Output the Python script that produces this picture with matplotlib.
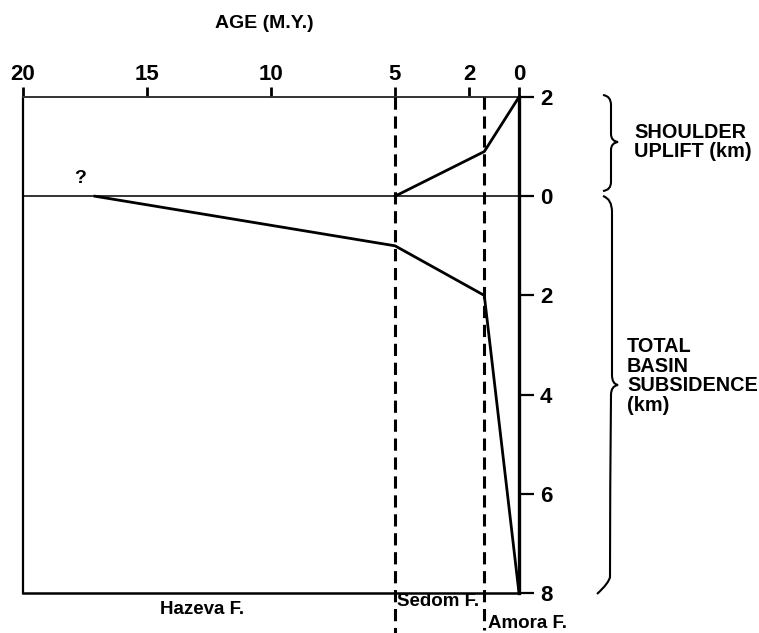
import matplotlib
matplotlib.use("Agg")
import matplotlib.pyplot as plt
from matplotlib.path import Path
from matplotlib.patches import PathPatch

# ---- data ----
age_ticks = [20, 15, 10, 5, 2, 0]
age_tick_labels = ["20", "15", "10", "5", "2", "0"]
km_ticks = [2, 0, -2, -4, -6, -8]
km_tick_labels = ["2", "0", "2", "4", "6", "8"]

uplift_age = [5, 1.4, 0]
uplift_km = [0, 0.9, 2]

subs_age = [17.1, 5, 1.4, 0]
subs_km = [0, 1.0, 2.0, 8.0]

boundary_ages = [5, 1.4]
formations = ["Hazeva F.", "Sedom F.", "Amora F."]

W, H = 759, 633
plt.rcParams['font.family'] = ['Liberation Sans', 'DejaVu Sans']
fig = plt.figure(figsize=(W / 100, H / 100), dpi=100)

def fx(x):
    return x / W

def fy(y):
    return 1 - y / H

ax = fig.add_axes([fx(23), fy(593), fx(519) - fx(23), fy(97) - fy(593)])
ax.set_xlim(20, 0)
ax.set_ylim(-8, 2)

# spines
ax.spines['right'].set_linewidth(2.4)
ax.spines['left'].set_linewidth(1.6)
ax.spines['bottom'].set_linewidth(1.8)
ax.spines['top'].set_linewidth(1.4)
ax.spines['top'].set_color('#333333')

# ticks
ax.xaxis.set_ticks_position('top')
ax.set_xticks(age_ticks)
ax.set_xticklabels(age_tick_labels, fontsize=16, fontweight='bold')
ax.tick_params(axis='x', direction='out', length=7, width=2, pad=2)
ax.yaxis.set_ticks_position('right')
ax.set_yticks(km_ticks)
ax.set_yticklabels(km_tick_labels, fontsize=16, fontweight='bold')
ax.tick_params(axis='y', direction='out', length=11, width=1.6, pad=4)

# zero line
ax.axhline(0, color='#333333', lw=1.4, zorder=1)

# boundaries (dashed)
for a, ybot in zip(boundary_ages, [-8.82, -8.75]):
    ax.plot([a, a], [2, ybot], color='black', lw=2.2, ls=(0, (4, 2.2)),
            clip_on=False, zorder=3)

# data lines
ax.plot(uplift_age, uplift_km, color='black', lw=2.0, zorder=4, clip_on=False)
ax.plot(subs_age, [-v for v in subs_km], color='black', lw=2.0, zorder=4,
        clip_on=False)

ax.text(17.7, 0.36, "?", fontsize=14, fontweight='bold', ha='center',
        va='center')

# title
fig.text(fx(264), fy(24), "AGE (M.Y.)", fontsize=14, fontweight='bold',
         ha='center', va='center')

# formation labels
fig.text(fx(160), fy(610), formations[0], fontsize=13.5, fontweight='bold',
         ha='left', va='center')
fig.text(fx(397), fy(602), formations[1], fontsize=13.5, fontweight='bold',
         ha='left', va='center')
fig.text(fx(488), fy(624), formations[2], fontsize=13.5, fontweight='bold',
         ha='left', va='center')

# right-side labels
fig.text(fx(634), fy(142), "SHOULDER\nUPLIFT (km)", fontsize=14.3,
         fontweight='bold', ha='left', va='center', linespacing=1.05)
fig.text(fx(627), fy(376), "TOTAL\nBASIN\nSUBSIDENCE\n(km)", fontsize=14.3,
         fontweight='bold', ha='left', va='center', linespacing=1.05)

# braces
def brace(pts):
    verts = [(fx(x), fy(y)) for x, y in pts]
    codes = [Path.MOVETO] + [Path.CURVE3, Path.CURVE3] * ((len(pts) - 1) // 2)
    p = Path(verts, codes)
    fig.patches.append(PathPatch(p, transform=fig.transFigure, fill=False,
                                 lw=1.5, color='black'))

brace([(603, 95), (611, 96), (611, 105), (611, 120), (611, 134),
       (611, 141), (618, 142), (611, 143), (611, 150), (611, 170),
       (611, 182), (611, 190), (603, 191)])
brace([(603, 196), (612, 199), (612, 212), (612, 300), (612, 375),
       (612, 384), (618, 385), (611, 386), (611, 395), (610, 490),
       (610, 577), (609, 583), (597, 594)])

fig.savefig("out.png", dpi=100)
